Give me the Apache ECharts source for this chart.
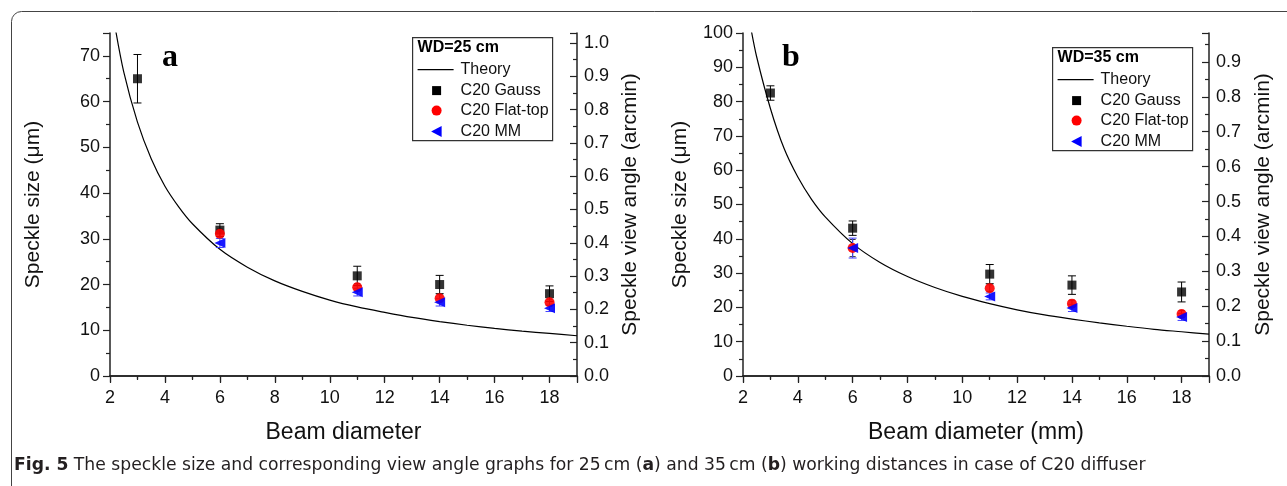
<!DOCTYPE html>
<html>
<head>
<meta charset="utf-8">
<script src="https://cdn.jsdelivr.net/npm/echarts@6/dist/echarts.min.js"></script>
<style>html,body{margin:0;padding:0;background:#fff;}#c{width:1287px;height:486px;}</style>
</head>
<body>
<div id="c"></div>
<script>
// ---------- data ----------
const diam = [3, 6, 11, 14, 18];
// panel a (WD = 25 cm)
const gaussA = [65.0, 31.9, 21.9, 20.0, 18.0];
const gaussErrA = [5.3, 1.4, 2.1, 2.0, 1.7];
const flatA = [null, 31.1, 19.4, 17.0, 16.1];
const flatErrA = [null, 1.0, 0.8, 0.8, 0.7];
const mmA = [null, 29.1, 18.3, 16.1, 14.8];
const mmErrA = [null, 1.0, 0.8, 0.8, 0.7];
const theoryXA = [2.15, 2.5, 3, 3.5, 4, 4.5, 5, 6, 7, 8, 9, 10, 11, 12, 13, 14, 15, 16, 17, 18, 19];
const theoryYA = [77.5, 66.5, 55.5, 47.5, 41.5, 37.0, 33.3, 27.7, 23.8, 20.8, 18.5, 16.6, 15.1, 13.9, 12.8, 11.9, 11.1, 10.4, 9.8, 9.3, 8.8];
// panel b (WD = 35 cm)
const gaussB = [82.5, 43.1, 29.7, 26.5, 24.5];
const gaussErrB = [2.1, 2.1, 2.8, 2.7, 2.9];
const flatB = [null, 37.3, 25.6, 21.1, 18.1];
const flatErrB = [null, 2.5, 1.0, 1.0, 1.0];
const mmB = [null, 37.3, 23.2, 19.8, 17.2];
const mmErrB = [null, 2.9, 1.0, 1.0, 1.0];
const theoryXB = [2.25, 2.5, 3, 3.5, 4, 4.5, 5, 6, 7, 8, 9, 10, 11, 12, 13, 14, 15, 16, 17, 18, 19];
const theoryYB = [103, 93.0, 78.0, 66.3, 58.0, 51.5, 46.4, 38.6, 33.1, 29.0, 25.8, 23.2, 21.1, 19.3, 17.8, 16.6, 15.5, 14.5, 13.6, 12.9, 12.2];

const seriesNames = ['Theory', 'C20 Gauss', 'C20 Flat-top', 'C20 MM'];
const xTitles = ['Beam diameter', 'Beam diameter (mm)'];
const yTitle = 'Speckle size (\u03bcm)';
const y2Title = 'Speckle view angle (arcmin)';
const legendTitles = ['WD=25 cm', 'WD=35 cm'];
const panelLetters = ['a', 'b'];

// ---------- helpers ----------
const FONT = 'Liberation Sans';
const AX = '#222';
const TXT = '#111';
function pts(xs, ys) { return xs.map((x, i) => [x, ys[i]]).filter(p => p[1] != null); }
function errPts(xs, ys, es) { return xs.map((x, i) => ys[i] == null ? null : [x, ys[i] - es[i], ys[i] + es[i]]).filter(p => p); }
function errRender(color, cap) {
  return function (params, api) {
    const x = api.value(0);
    const p1 = api.coord([x, api.value(1)]);
    const p2 = api.coord([x, api.value(2)]);
    const st = { stroke: color, lineWidth: 1 };
    return { type: 'group', children: [
      { type: 'line', shape: { x1: p1[0], y1: p1[1], x2: p2[0], y2: p2[1] }, style: st },
      { type: 'line', shape: { x1: p1[0] - cap, y1: p1[1], x2: p1[0] + cap, y2: p1[1] }, style: st },
      { type: 'line', shape: { x1: p2[0] - cap, y1: p2[1], x2: p2[0] + cap, y2: p2[1] }, style: st }
    ]};
  };
}
const lineStyle = { color: AX, width: 1.5 };
const tickStyle = { color: AX, width: 1.2 };
const labelFont = { fontFamily: FONT, fontSize: 18, color: TXT };
const xTitleFont = { fontFamily: FONT, fontSize: 23, color: TXT };
const yTitleFont = { fontFamily: FONT, fontSize: 21, color: TXT };
function xAxes(g, name) {
  return [
    { gridIndex: g, type: 'value', min: 2, max: 19, interval: 2, position: 'bottom',
      axisLine: { show: true, lineStyle }, axisTick: { show: true, length: 7, lineStyle: tickStyle },
      minorTick: { show: true, splitNumber: 2, length: 4, lineStyle: tickStyle },
      splitLine: { show: false }, minorSplitLine: { show: false },
      axisLabel: Object.assign({ margin: 13, showMaxLabel: false }, labelFont),
      name: name, nameLocation: 'middle', nameGap: 45, nameTextStyle: xTitleFont },
    { gridIndex: g, type: 'value', min: 2, max: 19, interval: 2, position: 'top',
      axisLine: { show: true, lineStyle }, axisTick: { show: true, inside: true, length: 6, lineStyle: tickStyle },
      minorTick: { show: true, splitNumber: 2, length: 3, lineStyle: tickStyle },
      splitLine: { show: false }, axisLabel: { show: false } }
  ];
}
function yAxes(g, max, max2, gap1, gap2) {
  return [
    { gridIndex: g, type: 'value', min: 0, max: max, interval: 10, position: 'left',
      axisLine: { show: true, lineStyle }, axisTick: { show: true, length: 7, lineStyle: tickStyle },
      minorTick: { show: true, splitNumber: 2, length: 4, lineStyle: tickStyle },
      splitLine: { show: false }, minorSplitLine: { show: false },
      axisLabel: Object.assign({ margin: 10, showMaxLabel: max % 10 === 0 }, labelFont),
      name: yTitle, nameLocation: 'middle', nameGap: gap1, nameTextStyle: yTitleFont },
    { gridIndex: g, type: 'value', min: 0, max: max2, interval: 0.1, position: 'right',
      axisLine: { show: true, lineStyle }, axisTick: { show: true, inside: true, length: 7, lineStyle: tickStyle },
      minorTick: { show: true, splitNumber: 2, length: 4, lineStyle: tickStyle },
      splitLine: { show: false }, minorSplitLine: { show: false },
      axisLabel: Object.assign({ margin: 7, showMaxLabel: false,
        formatter: v => (Math.round(v * 10) / 10).toFixed(1) }, labelFont),
      name: y2Title, nameLocation: 'middle', nameGap: gap2, nameRotate: 90, nameTextStyle: yTitleFont }
  ];
}
function panelSeries(g, tx, ty, gs, ge, fs, fe, ms, me) {
  const xi = g * 2, yi = g * 2;
  return [
    { name: seriesNames[0], type: 'line', xAxisIndex: xi, yAxisIndex: yi, data: pts(tx, ty), symbol: 'none',
      smooth: 0.3, clip: true, lineStyle: { color: '#000', width: 1.2 }, itemStyle: { color: '#000' }, z: 2 },
    { type: 'custom', xAxisIndex: xi, yAxisIndex: yi, data: errPts(diam, gs, ge), renderItem: errRender('#000', 4), z: 3, silent: true },
    { type: 'custom', xAxisIndex: xi, yAxisIndex: yi, data: errPts(diam, fs, fe), renderItem: errRender('#333', 3), z: 3, silent: true },
    { type: 'custom', xAxisIndex: xi, yAxisIndex: yi, data: errPts(diam, ms, me), renderItem: errRender('#4040ff', 4), z: 3, silent: true },
    { name: seriesNames[1], type: 'scatter', xAxisIndex: xi, yAxisIndex: yi, data: pts(diam, gs), symbol: 'rect', symbolSize: 9,
      itemStyle: { color: '#000' }, z: 4 },
    { name: seriesNames[2], type: 'scatter', xAxisIndex: xi, yAxisIndex: yi, data: pts(diam, fs), symbol: 'circle', symbolSize: 10,
      itemStyle: { color: '#ff0000', opacity: 0.9 }, z: 5 },
    { name: seriesNames[3], type: 'scatter', xAxisIndex: xi, yAxisIndex: yi, data: pts(diam, ms), symbol: 'triangle', symbolSize: [10, 11], symbolRotate: 90,
      itemStyle: { color: '#0000ff', opacity: 0.9 }, z: 6 }
  ];
}
// legend drawn as a framed key
function legendBox(x, y, title) {
  const w = 140, h = 103, rowY = [32, 53, 73, 94], mx = 24, tx = 48;
  const els = [
    { type: 'rect', shape: { x: 0, y: 0, width: w, height: h }, style: { fill: '#fff', stroke: '#333', lineWidth: 1.2 } },
    { type: 'text', x: 5, y: 10, style: { text: title, font: 'bold 16px "Liberation Sans"', fill: '#000', textVerticalAlign: 'middle' } },
    { type: 'line', shape: { x1: 5, y1: rowY[0], x2: 41, y2: rowY[0] }, style: { stroke: '#000', lineWidth: 1.2 } },
    { type: 'rect', shape: { x: mx - 4.5, y: rowY[1] - 4.5, width: 9, height: 9 }, style: { fill: '#000' } },
    { type: 'circle', shape: { cx: mx, cy: rowY[2], r: 5 }, style: { fill: '#ff0000' } },
    { type: 'polygon', shape: { points: [[mx - 5.5, rowY[3]], [mx + 5, rowY[3] - 5.5], [mx + 5, rowY[3] + 5.5]] }, style: { fill: '#0000ff' } }
  ];
  seriesNames.forEach((n, i) => els.push({ type: 'text', x: tx, y: rowY[i],
    style: { text: n, font: '16px "Liberation Sans"', fill: TXT, textVerticalAlign: 'middle' } }));
  return { type: 'group', left: x, top: y, z: 10, children: els };
}

const chart = echarts.init(document.getElementById('c'), null, { renderer: 'canvas' });
chart.setOption({
  animation: false,
  backgroundColor: '#fff',
  grid: [
    { left: 110, top: 33, width: 467, height: 343 },
    { left: 743, top: 33, width: 466, height: 343 }
  ],
  xAxis: [].concat(xAxes(0, xTitles[0]), xAxes(1, xTitles[1])),
  yAxis: [].concat(yAxes(0, 75, 1.03, 66.5, 42.5), yAxes(1, 100, 0.983, 52.5, 43.5)),
  series: [].concat(
    panelSeries(0, theoryXA, theoryYA, gaussA, gaussErrA, flatA, flatErrA, mmA, mmErrA),
    panelSeries(1, theoryXB, theoryYB, gaussB, gaussErrB, flatB, flatErrB, mmB, mmErrB)
  ),
  graphic: [
    { type: 'rect', left: 9, top: 9, shape: { x: 0, y: 0, width: 1300, height: 500, r: 10 },
      style: { fill: 'none', stroke: '#444', lineWidth: 1 }, z: -1, silent: true },
    legendBox(412, 37, legendTitles[0]),
    legendBox(1052, 47, legendTitles[1]),
    { type: 'text', left: 162, top: 42, style: { text: panelLetters[0], font: 'bold 32px "Liberation Serif"', fill: '#000' }, z: 11 },
    { type: 'text', left: 782, top: 42, style: { text: panelLetters[1], font: 'bold 32px "Liberation Serif"', fill: '#000' }, z: 11 },
    { type: 'text', left: 14, top: 457, z: 11, style: {
        text: '{b|Fig. 5} The speckle size and corresponding view angle graphs for 25\u2009cm ({b|a}) and 35\u2009cm ({b|b}) working distances in case of C20 diffuser',
        font: '17.2px "DejaVu Sans"', fill: '#231f20',
        rich: { b: { fontWeight: 'bold', fontFamily: 'DejaVu Sans', fontSize: 17.2, fill: '#231f20' } } } }
  ]
});
</script>
</body>
</html>
